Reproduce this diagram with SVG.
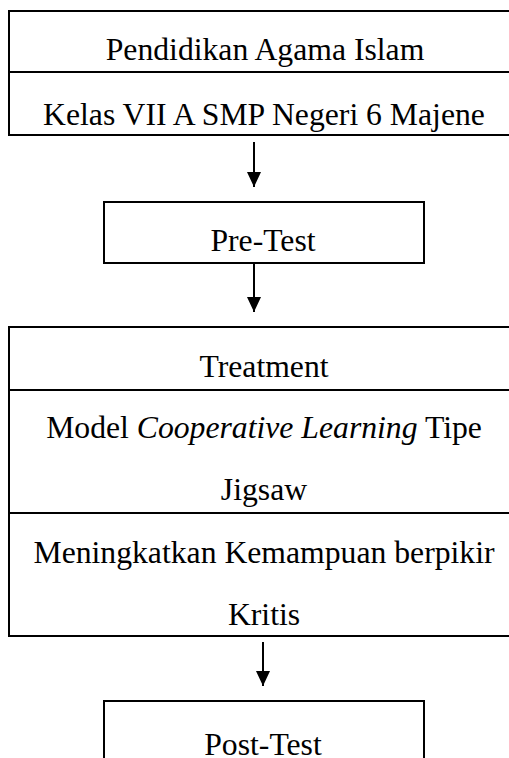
<svg xmlns="http://www.w3.org/2000/svg" width="509" height="758" viewBox="0 0 509 758">
<defs>
<style>
.box{fill:none;stroke:#000;stroke-width:2}
.div{stroke:#000;stroke-width:2}
.t{font-family:"Liberation Serif","Times New Roman",serif;font-size:31.7px;fill:#000;text-anchor:middle}
.i{font-style:italic}
.c{stroke:#000;stroke-width:2;fill:none}
</style>
<marker id="ah" viewBox="0 0 15 14" refX="15" refY="7" markerWidth="15" markerHeight="14" markerUnits="userSpaceOnUse" orient="auto">
<path d="M0,0 L15,7 L0,14 Z" fill="#000"/>
</marker>
</defs>
<rect width="509" height="758" fill="#fff"/>
<g id="node-subject">
<rect class="box" x="9" y="11" width="520" height="124"/>
<line class="div" x1="9" y1="72" x2="529" y2="72"/>
<text class="t" x="265" y="59.5">Pendidikan Agama Islam</text>
<text class="t" x="264" y="124.5">Kelas VII A SMP Negeri 6 Majene</text>
</g>
<g id="node-pretest">
<rect class="box" x="104" y="202" width="320" height="61"/>
<text class="t" x="263" y="250.5">Pre-Test</text>
</g>
<g id="node-treatment">
<rect class="box" x="9" y="327" width="520" height="309"/>
<line class="div" x1="9" y1="390" x2="529" y2="390"/>
<line class="div" x1="9" y1="513" x2="529" y2="513"/>
<text class="t" x="264" y="376.5">Treatment</text>
<text class="t" x="264" y="438">Model <tspan class="i">Cooperative Learning</tspan> Tipe</text>
<text class="t" x="264" y="500">Jigsaw</text>
<text class="t" x="264" y="562.5">Meningkatkan Kemampuan berpikir</text>
<text class="t" x="264" y="625">Kritis</text>
</g>
<g id="node-posttest">
<rect class="box" x="104" y="701" width="320" height="70"/>
<text class="t" x="263" y="754.5">Post-Test</text>
</g>
<g id="connectors">
<line class="c" x1="254" y1="142" x2="254" y2="187" marker-end="url(#ah)"/>
<line class="c" x1="254" y1="264" x2="254" y2="312" marker-end="url(#ah)"/>
<line class="c" x1="263" y1="642" x2="263" y2="686" marker-end="url(#ah)"/>
</g>
</svg>
